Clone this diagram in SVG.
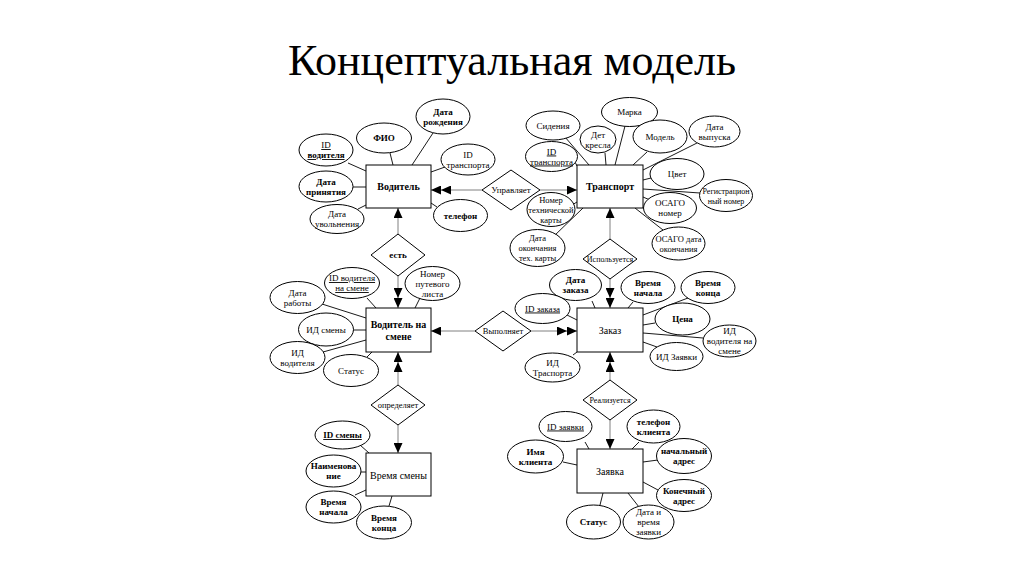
<svg xmlns="http://www.w3.org/2000/svg" width="1024" height="574" viewBox="0 0 1024 574">
<style>
text{font-family:'Liberation Serif','DejaVu Serif',serif;fill:#000;text-anchor:middle}
.t{font-family:'Times New Roman','Liberation Serif','DejaVu Serif',serif;font-size:44px;font-weight:normal}
.e rect{fill:#fff;stroke:#000;stroke-width:1}
.e text{font-size:10px}
.a ellipse{fill:#fff;stroke:#000;stroke-width:1}
.a text{font-size:9px}
.r polygon{fill:#fff;stroke:#000;stroke-width:1}
.r text{font-size:8.5px}
.b{font-weight:bold}
.u{text-decoration:underline}
.al line{stroke:#000;stroke-width:0.9}
.rl line{stroke:#808080;stroke-width:1}
</style>
<defs>
<marker id="s" viewBox="0 0 10 9" refX="10" refY="4.5" markerWidth="10" markerHeight="9" markerUnits="userSpaceOnUse" orient="auto"><path d="M0,0 L10,4.5 L0,9 Z" fill="#000"/></marker>
<marker id="d" viewBox="0 0 20 9" refX="20" refY="4.5" markerWidth="20" markerHeight="9" markerUnits="userSpaceOnUse" orient="auto"><path d="M0,0 L10,4.5 L0,9 Z M10,0 L20,4.5 L10,9 Z" fill="#000"/></marker>
</defs>
<rect width="1024" height="574" fill="#fff"/>
<text class="t" x="512" y="75">Концептуальная модель</text>

<g id="connectors">
<g class="al">
<line x1="348" y1="163" x2="366" y2="171"/>
<line x1="390" y1="153" x2="393" y2="165"/>
<line x1="433" y1="133" x2="412" y2="165"/>
<line x1="445" y1="167" x2="431" y2="172"/>
<line x1="353" y1="187" x2="366" y2="187"/>
<line x1="358" y1="209" x2="366" y2="205"/>
<line x1="437" y1="207" x2="431" y2="203"/>
<line x1="565" y1="137" x2="589" y2="165"/>
<line x1="575" y1="162" x2="577" y2="166"/>
<line x1="605" y1="153" x2="606" y2="165"/>
<line x1="625" y1="126" x2="615" y2="165"/>
<line x1="647" y1="152" x2="633" y2="165"/>
<line x1="697" y1="143" x2="643" y2="170"/>
<line x1="651" y1="178" x2="643" y2="180"/>
<line x1="700" y1="193" x2="643" y2="189"/>
<line x1="650" y1="200" x2="643" y2="197"/>
<line x1="663" y1="230" x2="635" y2="208"/>
<line x1="572" y1="205" x2="577" y2="202"/>
<line x1="553" y1="237" x2="583" y2="208"/>
<line x1="322" y1="304" x2="366" y2="318"/>
<line x1="367" y1="298" x2="376" y2="308"/>
<line x1="420" y1="298" x2="415" y2="308"/>
<line x1="353" y1="330" x2="366" y2="330"/>
<line x1="323" y1="352" x2="366" y2="340"/>
<line x1="367" y1="357" x2="372" y2="352"/>
<line x1="592" y1="301" x2="595" y2="308"/>
<line x1="567" y1="315" x2="577" y2="320"/>
<line x1="633" y1="302" x2="628" y2="308"/>
<line x1="688" y1="298" x2="643" y2="315"/>
<line x1="655" y1="323" x2="643" y2="325"/>
<line x1="703" y1="338" x2="643" y2="333"/>
<line x1="657" y1="347" x2="643" y2="342"/>
<line x1="573" y1="355" x2="577" y2="352"/>
<line x1="360" y1="445" x2="369" y2="453"/>
<line x1="361" y1="472" x2="366" y2="472"/>
<line x1="355" y1="495" x2="366" y2="490"/>
<line x1="389" y1="506" x2="392" y2="496"/>
<line x1="585" y1="442" x2="589" y2="449"/>
<line x1="563" y1="462" x2="577" y2="465"/>
<line x1="639" y1="442" x2="632" y2="449"/>
<line x1="658" y1="460" x2="643" y2="462"/>
<line x1="658" y1="490" x2="643" y2="482"/>
<line x1="600" y1="505" x2="603" y2="493"/>
<line x1="639" y1="507" x2="628" y2="493"/>
</g>
<g class="rl">
<line x1="482" y1="190" x2="431" y2="190" marker-end="url(#d)"/>
<line x1="540" y1="190" x2="577" y2="190" marker-end="url(#s)"/>
<line x1="398" y1="234" x2="398" y2="208" marker-end="url(#s)"/>
<line x1="398" y1="276" x2="398" y2="308" marker-end="url(#d)"/>
<line x1="610" y1="239" x2="610" y2="208" marker-end="url(#s)"/>
<line x1="610" y1="279" x2="610" y2="308" marker-end="url(#d)"/>
<line x1="531" y1="331" x2="577" y2="331" marker-end="url(#d)"/>
<line x1="475" y1="331" x2="431" y2="331" marker-end="url(#s)"/>
<line x1="398" y1="385" x2="398" y2="352" marker-end="url(#d)"/>
<line x1="398" y1="425" x2="398" y2="453" marker-end="url(#s)"/>
<line x1="610" y1="380" x2="610" y2="352" marker-end="url(#d)"/>
<line x1="610" y1="420" x2="610" y2="449" marker-end="url(#s)"/>
</g>
</g>

<g id="voditel" class="e"><rect x="366" y="165" width="65" height="43"/><text class="b" x="398.5" y="190">Водитель</text></g>
<g id="transport" class="e"><rect x="577" y="165" width="66" height="43"/><text class="b" x="610" y="190">Транспорт</text></g>
<g id="voditel-na-smene" class="e"><rect x="366" y="308" width="65" height="44"/><text class="b" x="398.5" y="327.5">Водитель на</text><text class="b" x="398.5" y="339.5">смене</text></g>
<g id="zakaz" class="e"><rect x="577" y="308" width="66" height="44"/><text x="610" y="334">Заказ</text></g>
<g id="vremya-smeny" class="e"><rect x="366" y="453" width="65" height="43"/><text x="398.5" y="478.5">Время смены</text></g>
<g id="zayavka" class="e"><rect x="577" y="449" width="66" height="44"/><text x="610" y="474.5">Заявка</text></g>

<g id="upravlyaet" class="r"><polygon points="482,190 511,170 540,190 511,210"/><text x="511" y="193" style="font-size:9px">Управляет</text></g>
<g id="est" class="r"><polygon points="371,255 398,234 425,255 398,276"/><text class="b" x="398" y="258" style="font-size:9px">есть</text></g>
<g id="ispolzuetsya" class="r"><polygon points="583,259 610,239 637,259 610,279"/><text x="610" y="262" style="font-size:8px">Используется</text></g>
<g id="vypolnyaet" class="r"><polygon points="475,331 503,311 531,331 503,351"/><text x="503" y="334">Выполняет</text></g>
<g id="opredelyaet" class="r"><polygon points="371,405 398,385 425,405 398,425"/><text x="398" y="408">определяет</text></g>
<g id="realizuetsya" class="r"><polygon points="583,400 610,380 637,400 610,420"/><text x="610" y="403" style="font-size:8px">Реализуется</text></g>

<g id="a-id-voditelya" class="a"><ellipse cx="326" cy="150" rx="27" ry="16"/><text class="u" x="326" y="148">ID</text><text class="b u" x="326" y="158">водителя</text></g>
<g id="a-fio" class="a"><ellipse cx="384" cy="138" rx="27.5" ry="15"/><text class="b" x="384" y="141">ФИО</text></g>
<g id="a-data-rozhdeniya" class="a"><ellipse cx="443" cy="116.5" rx="27" ry="17.5"/><text class="b" x="443" y="114.5">Дата</text><text class="b" x="443" y="124.5">рождения</text></g>
<g id="a-id-transporta-v" class="a"><ellipse cx="468" cy="159.5" rx="27" ry="15.5"/><text x="468" y="157.5">ID</text><text x="468" y="167.5">транспорта</text></g>
<g id="a-data-prinyatiya" class="a"><ellipse cx="326" cy="186.5" rx="27" ry="15.5"/><text class="b" x="326" y="184.5">Дата</text><text class="b" x="326" y="194.5">принятия</text></g>
<g id="a-data-uvolneniya" class="a"><ellipse cx="337" cy="219" rx="27" ry="14.5"/><text x="337" y="217">Дата</text><text x="337" y="227">увольнения</text></g>
<g id="a-telefon" class="a"><ellipse cx="460.5" cy="215.5" rx="27" ry="16"/><text class="b" x="460.5" y="218.5">телефон</text></g>

<g id="a-sideniya" class="a"><ellipse cx="553" cy="125.5" rx="27" ry="14.5"/><text x="553" y="128.5">Сидения</text></g>
<g id="a-id-transporta" class="a"><ellipse cx="551.5" cy="156.5" rx="26" ry="15"/><text class="u" x="551.5" y="154.5">ID</text><text class="u" x="551.5" y="164.5">транспорта</text></g>
<g id="a-det-kresla" class="a"><ellipse cx="598" cy="139.5" rx="18" ry="13.5"/><text x="598" y="137.5">Дет</text><text x="598" y="147.5">кресла</text></g>
<g id="a-marka" class="a"><ellipse cx="629.5" cy="112" rx="28" ry="14.5"/><text x="629.5" y="115">Марка</text></g>
<g id="a-model" class="a"><ellipse cx="660" cy="136.5" rx="27" ry="16.5"/><text x="660" y="139.5">Модель</text></g>
<g id="a-data-vypuska" class="a"><ellipse cx="714.5" cy="131.5" rx="25.5" ry="15.5"/><text x="714.5" y="129.5">Дата</text><text x="714.5" y="139.5">выпуска</text></g>
<g id="a-tsvet" class="a"><ellipse cx="677" cy="174" rx="27" ry="15.5"/><text x="677" y="177">Цвет</text></g>
<g id="a-reg-nomer" class="a"><ellipse cx="726" cy="195.5" rx="26.5" ry="16"/><text x="726" y="193.5" style="font-size:8px">Регистрацион</text><text x="726" y="203.5" style="font-size:8px">ный номер</text></g>
<g id="a-osago-nomer" class="a"><ellipse cx="670" cy="208" rx="26.5" ry="15.5"/><text x="670" y="206">ОСАГО</text><text x="670" y="216">номер</text></g>
<g id="a-osago-data" class="a"><ellipse cx="678.5" cy="243.5" rx="26.5" ry="16.5"/><text x="678.5" y="241.5" style="font-size:8.5px">ОСАГО дата</text><text x="678.5" y="251.5" style="font-size:8.5px">окончания</text></g>
<g id="a-nomer-tekh-karty" class="a"><ellipse cx="551" cy="209.5" rx="24" ry="17"/><text x="551" y="202.5" style="font-size:8.5px">Номер</text><text x="551" y="212.5" style="font-size:8.5px">технической</text><text x="551" y="222.5" style="font-size:8.5px">карты</text></g>
<g id="a-data-okonch-tekh" class="a"><ellipse cx="537.5" cy="248" rx="27.5" ry="18.5"/><text x="537.5" y="241" style="font-size:8.5px">Дата</text><text x="537.5" y="251" style="font-size:8.5px">окончания</text><text x="537.5" y="261" style="font-size:8.5px">тех. карты</text></g>

<g id="a-id-voditelya-na-smene" class="a"><ellipse cx="352" cy="283" rx="27.5" ry="15.5"/><text class="u" x="352" y="281">ID водителя</text><text class="u" x="352" y="291">на смене</text></g>
<g id="a-nomer-putevogo" class="a"><ellipse cx="432.5" cy="283.5" rx="27.5" ry="17"/><text x="432.5" y="276.5">Номер</text><text x="432.5" y="286.5">путевого</text><text x="432.5" y="296.5">листа</text></g>
<g id="a-data-raboty" class="a"><ellipse cx="297.5" cy="297.5" rx="27.5" ry="16"/><text x="297.5" y="295.5">Дата</text><text x="297.5" y="305.5">работы</text></g>
<g id="a-id-smeny-2" class="a"><ellipse cx="326" cy="329.5" rx="27.5" ry="16.5"/><text x="326" y="332.5">ИД смены</text></g>
<g id="a-id-voditelya-2" class="a"><ellipse cx="297.5" cy="357.5" rx="27.5" ry="16"/><text x="297.5" y="355.5">ИД</text><text x="297.5" y="365.5">водителя</text></g>
<g id="a-status-1" class="a"><ellipse cx="351" cy="370.5" rx="27.5" ry="16"/><text x="351" y="373.5">Статус</text></g>

<g id="a-data-zakaza" class="a"><ellipse cx="575.5" cy="285" rx="26" ry="15.5"/><text class="b" x="575.5" y="283">Дата</text><text class="b" x="575.5" y="293">заказа</text></g>
<g id="a-id-zakaza" class="a"><ellipse cx="542.5" cy="308.5" rx="27.5" ry="15"/><text class="u" x="542.5" y="311.5">ID заказа</text></g>
<g id="a-vremya-nachala-z" class="a"><ellipse cx="648" cy="287.5" rx="27" ry="16"/><text class="b" x="648" y="285.5">Время</text><text class="b" x="648" y="295.5">начала</text></g>
<g id="a-vremya-kontsa-z" class="a"><ellipse cx="708" cy="287.5" rx="27" ry="16"/><text class="b" x="708" y="285.5">Время</text><text class="b" x="708" y="295.5">конца</text></g>
<g id="a-tsena" class="a"><ellipse cx="682.5" cy="319" rx="27.5" ry="16"/><text class="b" x="682.5" y="322">Цена</text></g>
<g id="a-id-vns" class="a"><ellipse cx="729.5" cy="341" rx="26.5" ry="16"/><text x="729.5" y="334">ИД</text><text x="729.5" y="344">водителя на</text><text x="729.5" y="354">смене</text></g>
<g id="a-id-zayavki" class="a"><ellipse cx="676.5" cy="356.5" rx="26.5" ry="14"/><text x="676.5" y="359.5">ИД Заявки</text></g>
<g id="a-id-trasporta" class="a"><ellipse cx="552.5" cy="367.5" rx="27.5" ry="14.5"/><text x="552.5" y="365.5">ИД</text><text x="552.5" y="375.5">Траспорта</text></g>

<g id="a-id-smeny" class="a"><ellipse cx="342.5" cy="435" rx="27.5" ry="14"/><text class="b u" x="342.5" y="438">ID смены</text></g>
<g id="a-naimenovanie" class="a"><ellipse cx="333.5" cy="471" rx="27.5" ry="16"/><text class="b" x="333.5" y="469">Наименова</text><text class="b" x="333.5" y="479">ние</text></g>
<g id="a-vremya-nachala" class="a"><ellipse cx="333.5" cy="507" rx="27.5" ry="16"/><text class="b" x="333.5" y="505">Время</text><text class="b" x="333.5" y="515">начала</text></g>
<g id="a-vremya-kontsa" class="a"><ellipse cx="384" cy="522.5" rx="27.5" ry="16.5"/><text class="b" x="384" y="520.5">Время</text><text class="b" x="384" y="530.5">конца</text></g>

<g id="a-id-zayavki-u" class="a"><ellipse cx="565.5" cy="426.5" rx="26.5" ry="15"/><text class="u" x="565.5" y="429.5">ID заявки</text></g>
<g id="a-imya-klienta" class="a"><ellipse cx="535.5" cy="456.5" rx="28" ry="16.5"/><text class="b" x="535.5" y="454.5">Имя</text><text class="b" x="535.5" y="464.5">клиента</text></g>
<g id="a-telefon-klienta" class="a"><ellipse cx="653.5" cy="426.5" rx="26.5" ry="16.5"/><text class="b" x="653.5" y="424.5">телефон</text><text class="b" x="653.5" y="434.5">клиента</text></g>
<g id="a-nachalnyi-adres" class="a"><ellipse cx="684" cy="456" rx="27.5" ry="17.5"/><text class="b" x="684" y="454">начальный</text><text class="b" x="684" y="464">адрес</text></g>
<g id="a-konechnyi-adres" class="a"><ellipse cx="684" cy="495.5" rx="27.5" ry="16"/><text class="b" x="684" y="493.5">Конечный</text><text class="b" x="684" y="503.5">адрес</text></g>
<g id="a-status-2" class="a"><ellipse cx="593.5" cy="522" rx="27" ry="17"/><text class="b" x="593.5" y="525">Статус</text></g>
<g id="a-data-vremya-zayavki" class="a"><ellipse cx="648.5" cy="522" rx="25.5" ry="17"/><text x="648.5" y="515">Дата и</text><text x="648.5" y="525">время</text><text x="648.5" y="535">заявки</text></g>
</svg>
